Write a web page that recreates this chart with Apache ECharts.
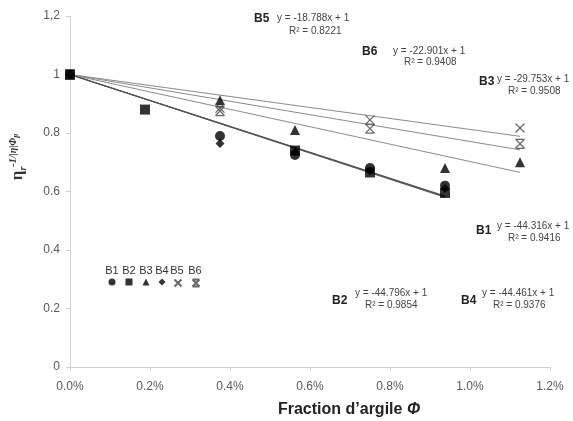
<!DOCTYPE html>
<html>
<head>
<meta charset="utf-8">
<script src="https://cdn.jsdelivr.net/npm/echarts@6/dist/echarts.min.js"></script>
<style>html,body{margin:0;padding:0;background:#fff}#c{width:573px;height:421px}</style>
</head>
<body>
<div id="c"></div>
<script>
// Clay fraction (as fraction, axis shows %)
const xValues = [0, 0.001875, 0.00375, 0.005625, 0.0075, 0.009375, 0.01125];
const seriesNames = ['B1', 'B2', 'B3', 'B4', 'B5', 'B6'];
const B1 = [1, null, 0.79, 0.725, 0.68, 0.62, null];
const B2 = [1, 0.88, null, 0.74, 0.665, 0.595, null];
const B3 = [1, null, 0.912, 0.81, null, 0.68, 0.70];
const B4 = [1, null, 0.764, 0.735, 0.67, 0.61, null];
const B5 = [1, null, 0.885, null, 0.845, null, 0.817];
const B6 = [1, null, 0.875, null, 0.815, null, 0.763];
// Linear trend lines y = a x + 1
const trendSlopes = [-44.316, -44.796, -29.753, -44.461, -18.788, -22.901];
const trendR2 = ['0.9416', '0.9854', '0.9508', '0.9376', '0.8221', '0.9408'];
const trendEnd = [0.009375, 0.009375, 0.01125, 0.009375, 0.01125, 0.01125];
const xTickLabels = ['0.0%', '0.2%', '0.4%', '0.6%', '0.8%', '1.0%', '1.2%'];
const yTickLabels = {0: '0', 0.2: '0.2', 0.4: '0.4', 0.6: '0.6', 0.8: '0.8', 1: '1', 1.2: '1,2'};

const allData = [B1, B2, B3, B4, B5, B6];
const symbols = [
  'circle', 'rect', 'triangle', 'diamond',
  'path://M0,0L10,10M10,0L0,10',
  'path://M0,0L10,0M0,10L10,10M0,0L10,10M10,0L0,10'
];
const symSizes = [10, 10, 10, 9, 9, 9];
const zs = [3, 6, 4, 3, 5, 5];

const series = [];
trendSlopes.forEach((a, i) => {
  const low = trendEnd[i] < 0.01;
  series.push({
    type: 'line', name: 'trend' + i, silent: true, symbol: 'none', z: 1,
    data: [[0, 1], [trendEnd[i], 1 + a * trendEnd[i]]],
    lineStyle: {color: low ? '#555' : '#8a8a8a', width: low ? 1.1 : 1}
  });
});
seriesNames.forEach((n, i) => {
  const isX = i >= 4;
  series.push({
    type: 'scatter', name: n, z: zs[i], symbol: symbols[i], symbolSize: symSizes[i],
    data: xValues.map((x, k) => allData[i][k] == null ? null : [x, allData[i][k]]).filter(d => d),
    itemStyle: isX ? {color: 'rgba(0,0,0,0)', borderColor: '#444', borderWidth: 1.3}
                   : {color: '#000'}
  });
});

const legendX = [112, 129, 146, 162, 177, 195];
const legends = seriesNames.map((n, i) => ({
  data: [n], left: legendX[i] - 3.5, top: 278.5, itemWidth: 7, itemHeight: 7,
  formatter: () => '', padding: 0, selectedMode: false, textStyle: {fontSize: 1}
}));

const eqText = (lbl, i, bx, by, ex, ey, rx, ry) => [
  {type: 'text', left: bx, top: by, style: {text: lbl, font: 'bold 12px "Liberation Sans"', fill: '#222'}},
  {type: 'text', left: ex, top: ey, style: {text: 'y = ' + trendSlopes[i].toFixed(3) + 'x + 1', font: '10px "Liberation Sans"', fill: '#444'}},
  {type: 'text', left: rx, top: ry, style: {text: 'R² = ' + trendR2[i], font: '10px "Liberation Sans"', fill: '#444'}}
];

const graphic = [].concat(
  eqText('B5', 4, 254, 13, 277, 13, 289, 26),
  eqText('B6', 5, 362, 46, 393, 46, 404, 57),
  eqText('B3', 2, 479, 76, 497, 74, 508, 86),
  eqText('B1', 0, 476, 225, 497, 221, 508, 233),
  eqText('B2', 1, 332, 295, 355, 288, 365, 300),
  eqText('B4', 3, 461, 295, 482, 288, 493, 300),
  legendX.map((x, i) => ({type: 'text', x: x, y: 271, style: {text: seriesNames[i], font: '11px "Liberation Sans"', fill: '#333', align: 'center', verticalAlign: 'middle'}})),
  [{
    type: 'text', x: 18, y: 157, rotation: Math.PI / 2,
    style: {
      text: '{e|η}{r|r}{s|-1/|η|Φ}{p|p}', align: 'center', verticalAlign: 'middle',
      rich: {
        e: {font: 'bold 17px "Liberation Serif"', fill: '#333', lineHeight: 20, verticalAlign: 'middle'},
        r: {font: 'bold italic 10px "Liberation Serif"', fill: '#333', lineHeight: 20, verticalAlign: 'bottom', padding: [7, 0, 0, 0]},
        s: {font: 'bold italic 10px "Liberation Serif"', fill: '#333', lineHeight: 20, verticalAlign: 'top'},
        p: {font: 'bold italic 8px "Liberation Serif"', fill: '#333', lineHeight: 20, verticalAlign: 'top', padding: [4, 0, 0, 0]}
      }
    }
  }, {
    type: 'text', x: 349, y: 410,
    style: {
      text: '{t|Fraction d’argile }{f|Φ}', align: 'center', verticalAlign: 'middle',
      rich: {
        t: {font: 'bold 16px "Liberation Sans"', fill: '#222'},
        f: {font: 'bold italic 16px "Liberation Sans"', fill: '#222'}
      }
    }
  }]
);

const chart = echarts.init(document.getElementById('c'), null, {renderer: 'canvas'});
chart.setOption({
  animation: false,
  backgroundColor: '#fff',
  grid: {left: 70, right: 23, top: 16, bottom: 54},
  legend: legends,
  xAxis: {
    type: 'value', min: 0, max: 0.012, interval: 0.002,
    axisLine: {lineStyle: {color: '#cfcfcf'}},
    axisTick: {show: true, length: 4, lineStyle: {color: '#cfcfcf'}},
    splitLine: {show: false},
    axisLabel: {margin: 14, color: '#595959', fontSize: 12, fontFamily: 'Liberation Sans',
      formatter: v => xTickLabels[Math.round(v / 0.002)]}
  },
  yAxis: {
    type: 'value', min: 0, max: 1.2, interval: 0.2,
    axisLine: {show: true, lineStyle: {color: '#cfcfcf'}},
    axisTick: {show: true, length: 4, lineStyle: {color: '#cfcfcf'}},
    splitLine: {show: false},
    axisLabel: {margin: 10, color: '#595959', fontSize: 12, fontFamily: 'Liberation Sans',
      formatter: v => yTickLabels[Math.round(v * 10) / 10]}
  },
  graphic: graphic,
  series: series
});
</script>
</body>
</html>
